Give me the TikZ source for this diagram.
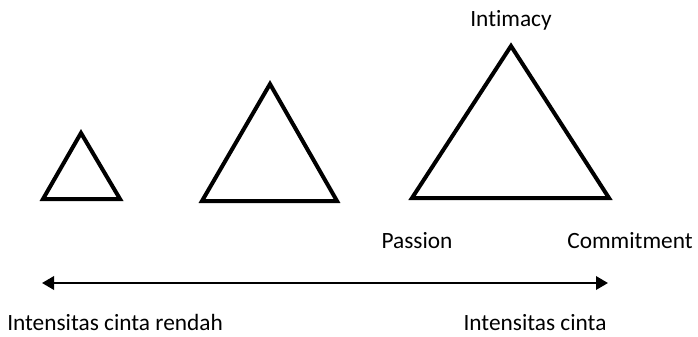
\documentclass[tikz,border=0pt]{standalone}
\usepackage{fontspec}
\setmainfont{Carlito}[Ligatures=NoCommon]
\usetikzlibrary{arrows.meta}
\tikzset{
  tri/.style={line width=3pt,line join=miter},
  lbl/.style={font=\fontsize{17.5}{20}\selectfont,inner sep=0pt,anchor=base}
}

\begin{document}
\begin{tikzpicture}[x=0.75pt,y=-0.75pt]
  \useasboundingbox (0,0) rectangle (698,336);
  % three triangles, small to large
  \draw[tri] (81,133) -- (120,199) -- (43,199) -- cycle;
  \draw[tri] (270,84) -- (337,201) -- (202,201) -- cycle;
  \coordinate (top) at (511,46);
  \coordinate (pas) at (412,198);
  \coordinate (com) at (609,198);
  \draw[tri] (top) -- (com) -- (pas) -- cycle;
  \node[lbl] (intimacy) at (511,26) {Intimacy};
  \node[lbl] (passion) at (417,248) {Passion};
  \node[lbl] (commitment) at (630,248) {Commitment};
  % intensity axis
  \coordinate (lo) at (42,283);
  \coordinate (hi) at (608,283);
  \draw[line width=1.8pt,{Triangle[length=9pt,width=10pt]}-{Triangle[length=9pt,width=10pt]}] (lo) -- (hi);
  \node[lbl,anchor=base west] (rendah) at (7,330) {Intensitas cinta rendah};
  \node[lbl] (tinggi) at (535,330) {Intensitas cinta};
\end{tikzpicture}
\end{document}
